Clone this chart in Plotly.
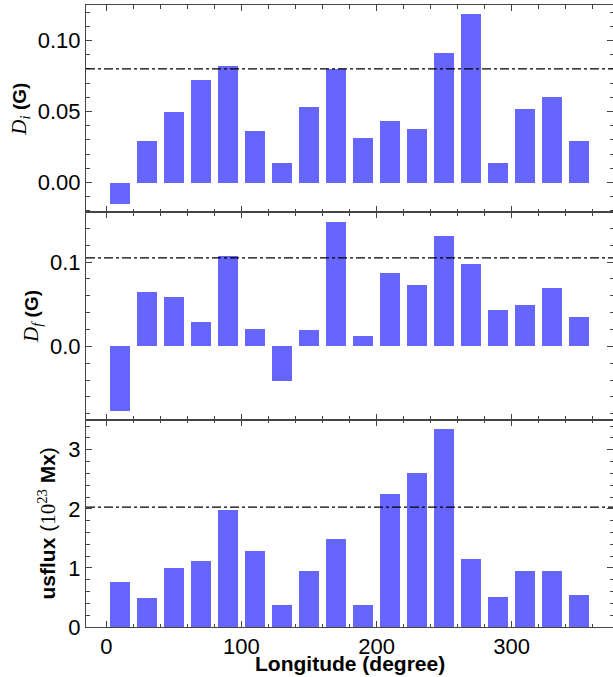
import plotly.graph_objects as go
from plotly.subplots import make_subplots

longitude = [10, 30, 50, 70, 90, 110, 130, 150, 170, 190, 210, 230, 250, 270, 290, 310, 330, 350]
d_i = [-0.015, 0.029, 0.050, 0.072, 0.082, 0.036, 0.014, 0.053, 0.080, 0.031,
       0.043, 0.038, 0.091, 0.119, 0.014, 0.052, 0.060, 0.029]
d_f = [-0.077, 0.064, 0.058, 0.028, 0.107, 0.020, -0.041, 0.019, 0.147, 0.012,
       0.087, 0.072, 0.130, 0.097, 0.043, 0.049, 0.069, 0.034]
usflux = [0.76, 0.49, 1.00, 1.12, 1.99, 1.30, 0.385, 0.96, 1.49, 0.37,
          2.25, 2.61, 3.36, 1.15, 0.52, 0.95, 0.96, 0.54]
thresholds = [0.080, 0.105, 2.03]
series = [d_i, d_f, usflux]
y_ranges = [[-0.021, 0.125], [-0.087, 0.159], [0, 3.51]]
y_dticks = [0.05, 0.1, 1]
y_minor = [0.01, 0.02, 0.2]
y_formats = [".2f", ".1f", "d"]
y_titles = [
    '<span style="font-family:Liberation Serif;font-size:21px"><i>D</i><sub><i>i</i></sub></span> <b>(G)</b>',
    '<span style="font-family:Liberation Serif;font-size:21px"><i>D</i><sub><i>f</i></sub></span> <b>(G)</b>',
    '<b>usflux</b> (<span style="font-family:Liberation Serif">10<sup>23</sup></span> <b>Mx</b>)',
]
y_title_sizes = [19, 19, 21]
x_title = "<b>Longitude (degree)</b>"

BAR_COLOR = "#6666ff"
AX_COLOR = "#444444"

fig = make_subplots(rows=3, cols=1, shared_xaxes=True, vertical_spacing=0)

for i, (vals, thr) in enumerate(zip(series, thresholds)):
    row = i + 1
    fig.add_trace(go.Bar(x=longitude, y=vals, width=15, marker_color=BAR_COLOR,
                         marker_line_width=0, showlegend=False, hoverinfo="skip"), row=row, col=1)
    yname = "y" if row == 1 else f"y{row}"
    xname = "x" if row == 1 else f"x{row}"
    fig.add_shape(type="line", xref=f"{xname} domain", yref=yname, x0=0, x1=1,
                  y0=thr, y1=thr, line=dict(color="black", width=1.2, dash="dashdot"))
    fig.update_yaxes(range=y_ranges[i], dtick=y_dticks[i], tickformat=y_formats[i],
                     ticks="inside", ticklen=6, tickwidth=1.2, tickcolor=AX_COLOR,
                     minor=dict(dtick=y_minor[i], ticks="inside", ticklen=3.5, tickcolor=AX_COLOR),
                     showline=True, linecolor=AX_COLOR, linewidth=1, mirror="allticks",
                     showgrid=False, zeroline=False,
                     tickfont=dict(family="Liberation Sans", size=22, color="black"),
                     title=dict(text=y_titles[i],
                                font=dict(family="Liberation Sans", size=y_title_sizes[i], color="black"),
                                standoff=6),
                     row=row, col=1)
    fig.update_xaxes(range=[-15, 375], dtick=100, ticks="inside", ticklen=6, tickwidth=1.2,
                     tickcolor=AX_COLOR,
                     minor=dict(dtick=20, ticks="inside", ticklen=3.5, tickcolor=AX_COLOR),
                     showline=True, linecolor=AX_COLOR, linewidth=1, mirror="allticks",
                     showgrid=False, zeroline=False, automargin=False,
                     tickfont=dict(family="Liberation Sans", size=22, color="black"),
                     row=row, col=1)

fig.add_annotation(text=x_title, xref="paper", yref="paper", x=0.5, y=-0.058,
                   xanchor="center", yanchor="middle", showarrow=False,
                   font=dict(family="Liberation Sans", size=21, color="black"))

fig.update_layout(width=613, height=677, margin=dict(l=86, r=0, t=5, b=50),
                  plot_bgcolor="white", paper_bgcolor="white", bargap=0)

fig.write_html("out.html", config={"displayModeBar": False},
               post_script="document.body.style.margin='0';")
